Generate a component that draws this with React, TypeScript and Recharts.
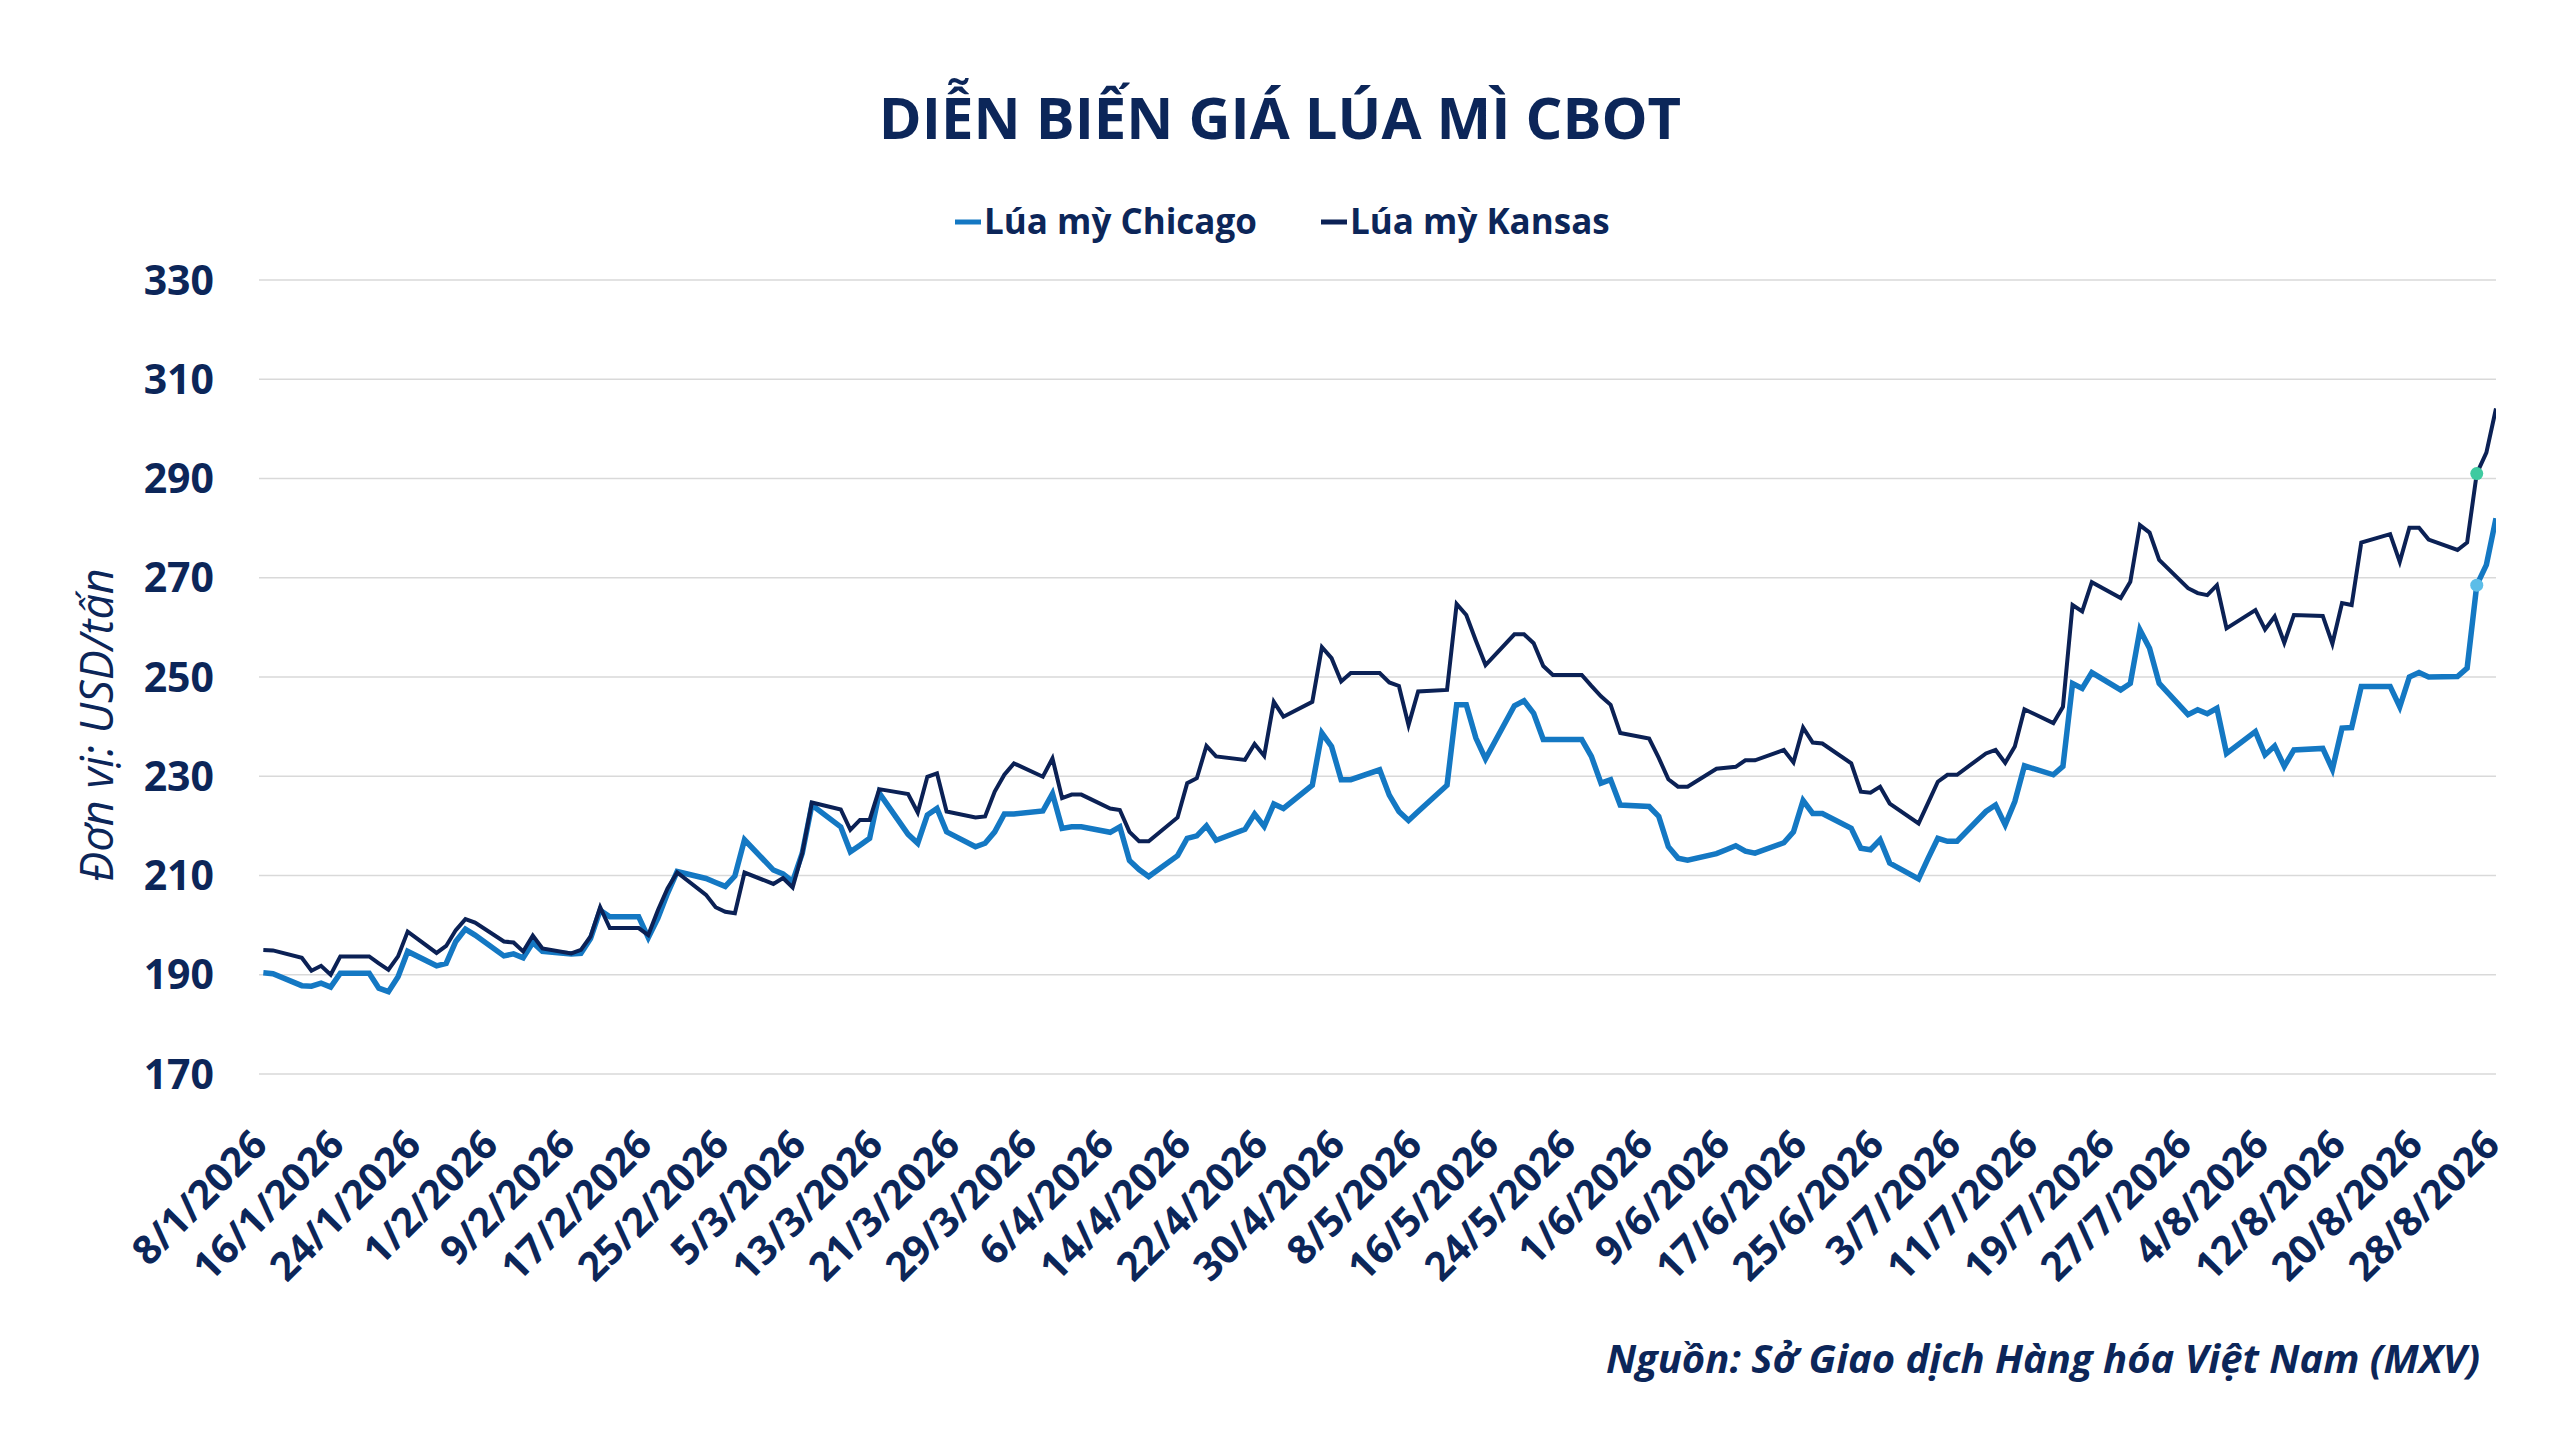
import { LineChart, Line, XAxis, YAxis, CartesianGrid } from 'recharts';

// trading days, d/m (2026)
const dates = [
  // Jan
  '8/1', '9/1', '12/1', '13/1', '14/1', '15/1', '16/1', '19/1', '20/1', '21/1', '22/1', '23/1',
  '26/1', '27/1', '28/1', '29/1', '30/1',
  // Feb
  '2/2', '3/2', '4/2', '5/2', '6/2', '9/2', '10/2', '11/2', '12/2', '13/2', '16/2', '17/2', '18/2',
  '19/2', '20/2', '23/2', '24/2', '25/2', '26/2', '27/2',
  // Mar
  '2/3', '3/3', '4/3', '5/3', '6/3', '9/3', '10/3', '11/3', '12/3', '13/3', '16/3', '17/3', '18/3',
  '19/3', '20/3', '23/3', '24/3', '25/3', '26/3', '27/3', '30/3', '31/3',
  // Apr
  '1/4', '2/4', '3/4', '6/4', '7/4', '8/4', '9/4', '10/4', '13/4', '14/4', '15/4', '16/4', '17/4',
  '20/4', '21/4', '22/4', '23/4', '24/4', '27/4', '28/4', '29/4', '30/4',
  // May
  '1/5', '4/5', '5/5', '6/5', '7/5', '8/5', '11/5', '12/5', '13/5', '14/5', '15/5', '18/5', '19/5',
  '20/5', '21/5', '22/5', '25/5', '26/5', '27/5', '28/5', '29/5',
  // Jun
  '1/6', '2/6', '3/6', '4/6', '5/6', '8/6', '9/6', '10/6', '11/6', '12/6', '15/6', '16/6', '17/6',
  '18/6', '19/6', '22/6', '23/6', '24/6', '25/6', '26/6', '29/6', '30/6',
  // Jul
  '1/7', '2/7', '3/7', '6/7', '7/7', '8/7', '9/7', '10/7', '13/7', '14/7', '15/7', '16/7', '17/7',
  '20/7', '21/7', '22/7', '23/7', '24/7', '27/7', '28/7', '29/7', '30/7', '31/7',
  // Aug
  '3/8', '4/8', '5/8', '6/8', '7/8', '10/8', '11/8', '12/8', '13/8', '14/8', '17/8', '18/8', '19/8',
  '20/8', '21/8', '24/8', '25/8', '26/8', '27/8', '28/8',
];

const chicago = [
  190.4, 190.2, 187.8, 187.7, 188.3, 187.5, 190.3, 190.3, 187.3, 186.6, 189.6, 194.7, 191.8, 192.3, 196.7, 199.2, 198.0,
  193.8, 194.2, 193.4, 196.5, 194.7, 194.2, 194.3, 197.3, 203.0, 201.7, 201.7, 197.5, 201.4, 206.4, 210.8, 209.4, 208.6, 207.8, 209.9, 217.2,
  211.1, 210.3, 208.8, 214.5, 224.2, 219.8, 214.8, 216.1, 217.5, 226.6, 218.3, 216.5, 222.2, 223.5, 218.8, 215.8, 216.5, 218.8, 222.4, 222.4, 223.0, 226.5,
  219.5, 219.8, 219.8, 218.7, 219.8, 213.0, 211.2, 209.8, 214.0, 217.5, 218.0, 220.0, 217.1, 219.3, 222.4, 219.9, 224.4, 223.5, 228.2, 238.7, 236.0, 229.3,
  229.3, 231.3, 226.2, 222.9, 221.1, 222.9, 228.2, 244.4, 244.4, 237.7, 233.5, 244.2, 245.2, 242.7, 237.4, 237.4, 237.4, 234.0, 228.6, 229.3, 224.2,
  223.9, 221.9, 215.8, 213.5, 213.1, 214.4, 215.2, 216.0, 214.9, 214.5, 216.6, 218.8, 225.1, 222.5, 222.5, 219.5, 215.5, 215.2, 217.2, 212.5, 209.3, 213.5,
  217.5, 216.9, 216.9, 222.9, 224.2, 220.2, 224.9, 232.1, 230.3, 232.0, 248.7, 247.7, 250.9, 247.4, 248.7, 259.5, 255.8, 248.7, 242.4, 243.4, 242.6, 243.7, 234.6,
  239.0, 234.3, 236.1, 232.0, 235.3, 235.6, 231.4, 239.7, 239.8, 248.1, 248.1, 244.0, 250.0, 250.9, 250.0, 250.1, 251.8, 268.5, 272.6, 282.0,
];

const kansas = [
  195.0, 194.9, 193.4, 190.8, 191.8, 190.0, 193.7, 193.7, 192.3, 191.0, 193.7, 198.7, 194.4, 195.8, 199.0, 201.2, 200.5,
  196.7, 196.5, 194.7, 197.9, 195.3, 194.3, 195.0, 197.7, 203.6, 199.4, 199.4, 198.0, 203.0, 207.4, 210.6, 206.1, 203.6, 202.7, 202.4, 210.6,
  208.3, 209.5, 207.6, 214.5, 224.7, 223.3, 219.2, 221.2, 221.2, 227.4, 226.4, 222.7, 229.9, 230.6, 222.9, 221.7, 221.9, 226.9, 230.3, 232.6, 229.9, 233.6,
  225.6, 226.3, 226.3, 223.5, 223.2, 218.8, 216.9, 216.9, 221.7, 228.6, 229.6, 236.1, 234.0, 233.3, 236.5, 234.1, 245.0, 242.0, 245.0, 256.0, 253.8, 249.1,
  250.8, 250.8, 248.9, 248.2, 240.3, 247.1, 247.4, 264.7, 262.5, 257.3, 252.4, 258.6, 258.6, 256.8, 252.2, 250.4, 250.4, 248.2, 246.1, 244.4, 238.7,
  237.6, 233.7, 229.4, 227.9, 227.9, 231.5, 231.7, 231.9, 233.2, 233.2, 235.3, 232.8, 239.8, 236.8, 236.6, 232.6, 226.9, 226.7, 227.9, 224.5, 220.5, 224.7,
  228.9, 230.3, 230.3, 234.6, 235.3, 232.7, 236.0, 243.5, 240.7, 244.0, 264.5, 263.2, 269.1, 265.9, 269.2, 280.6, 279.1, 273.6, 267.9, 266.9, 266.5, 268.5, 259.8,
  263.5, 259.6, 262.2, 256.9, 262.5, 262.3, 256.7, 264.9, 264.5, 277.1, 278.8, 273.2, 280.1, 280.1, 277.7, 275.6, 277.1, 291.0, 295.2, 304.1,
];

const xTickLabels = [
  '8/1/2026', '16/1/2026', '24/1/2026', '1/2/2026', '9/2/2026', '17/2/2026', '25/2/2026', '5/3/2026',
  '13/3/2026', '21/3/2026', '29/3/2026', '6/4/2026', '14/4/2026', '22/4/2026', '30/4/2026', '8/5/2026',
  '16/5/2026', '24/5/2026', '1/6/2026', '9/6/2026', '17/6/2026', '25/6/2026', '3/7/2026', '11/7/2026',
  '19/7/2026', '27/7/2026', '4/8/2026', '12/8/2026', '20/8/2026', '28/8/2026',
];
const yTicks = [170, 190, 210, 230, 250, 270, 290, 310, 330];

const seriesNames = ['Lúa mỳ Chicago', 'Lúa mỳ Kansas'];
const markedDate = '26/8'; // highlighted point on both lines

const NAVY = '#0c2659';
const CHICAGO = '#1478c3';
const KANSAS = '#0b2155';
const FONT = "'Open Sans', 'Noto Sans', sans-serif";

const W = 2559;
const H = 1440;
const PLOT = { left: 259, right: 2496, top: 280, bottom: 1074 };
const X_AXIS_H = 200;

const dayOf = (s: string) => {
  const [d, m] = s.split('/').map(Number);
  return (Date.UTC(2026, m - 1, d) - Date.UTC(2026, 0, 8)) / 86400000;
};

const rows = dates.map((s, i) => ({ day: dayOf(s), date: s, chicago: chicago[i], kansas: kansas[i] }));
const xTicks = xTickLabels.map(dayOf);
const lastDay = xTicks[xTicks.length - 1];

const XTick = (props: any) => {
  const { x, payload } = props;
  const i = xTicks.indexOf(payload.value);
  const ax = x + 6;
  const ay = PLOT.bottom + 73;
  return (
    <text x={ax} y={ay} transform={`rotate(-45, ${ax}, ${ay})`} textAnchor="end"
      fontSize={40} fontWeight={700} fill={NAVY} fontFamily={FONT}>
      {xTickLabels[i]}
    </text>
  );
};

const YTick = (props: any) => {
  const { y, payload } = props;
  return (
    <text x={214} y={y + 14.5} textAnchor="end" fontSize={41} fontWeight={700} fill={NAVY} fontFamily={FONT}>
      {payload.value}
    </text>
  );
};

const markDot = (color: string) => (props: any) => {
  const { cx, cy, payload, index } = props;
  if (payload.date !== markedDate) return <g key={`n-${index}`} />;
  return <circle key={`m-${index}`} cx={cx} cy={cy} r={6.5} fill={color} stroke="none" />;
};

const legendItems = [
  { name: seriesNames[0], color: CHICAGO, x: 955 },
  { name: seriesNames[1], color: KANSAS, x: 1321 },
];

export default function App() {
  return (
    <div style={{ position: 'absolute', left: 0, top: 0, width: W, height: H, background: '#fff' }}>
      <LineChart
        width={W}
        height={H}
        data={rows}
        margin={{ top: PLOT.top, right: W - PLOT.right, bottom: H - PLOT.bottom - X_AXIS_H, left: 0 }}
      >
        <CartesianGrid vertical={false} stroke="#d9d9d9" strokeWidth={1.5} />
        <XAxis
          type="number"
          dataKey="day"
          domain={[-0.45, lastDay]}
          ticks={xTicks}
          interval={0}
          tick={<XTick />}
          axisLine={false}
          tickLine={false}
          height={X_AXIS_H}
          allowDataOverflow
        />
        <YAxis
          type="number"
          domain={[170, 330]}
          ticks={yTicks}
          interval={0}
          tick={<YTick />}
          axisLine={false}
          tickLine={false}
          width={PLOT.left}
        />
        <Line type="linear" dataKey="chicago" stroke={CHICAGO} strokeWidth={5.5} dot={markDot('#5cbde8')}
          activeDot={false} isAnimationActive={false} />
        <Line type="linear" dataKey="kansas" stroke={KANSAS} strokeWidth={4} dot={markDot('#3fcaa0')}
          activeDot={false} isAnimationActive={false} />
      </LineChart>

      <svg width={W} height={H} style={{ position: 'absolute', left: 0, top: 0, pointerEvents: 'none' }}>
        <text x={1280} y={139} textAnchor="middle" fontSize={58} fontWeight={700} fill={NAVY} fontFamily={FONT}>
          DIỄN BIẾN GIÁ LÚA MÌ CBOT
        </text>
        {legendItems.map((it) => (
          <g key={it.name}>
            <line x1={it.x} x2={it.x + 26} y1={222} y2={222} stroke={it.color} strokeWidth={5} />
            <text x={it.x + 29} y={234} fontSize={35} fontWeight={700} fill={NAVY} fontFamily={FONT}>
              {it.name}
            </text>
          </g>
        ))}
        <text x={95} y={725} transform="rotate(-90, 95, 725)" textAnchor="middle" dominantBaseline="central"
          fontSize={45} fontStyle="italic" fill={NAVY} fontFamily={FONT}>
          Đơn vị: USD/tấn
        </text>
        <text x={2480} y={1373} textAnchor="end" fontSize={40} fontWeight={700} fontStyle="italic" fill={NAVY}
          fontFamily={FONT}>
          Nguồn: Sở Giao dịch Hàng hóa Việt Nam (MXV)
        </text>
      </svg>
    </div>
  );
}
